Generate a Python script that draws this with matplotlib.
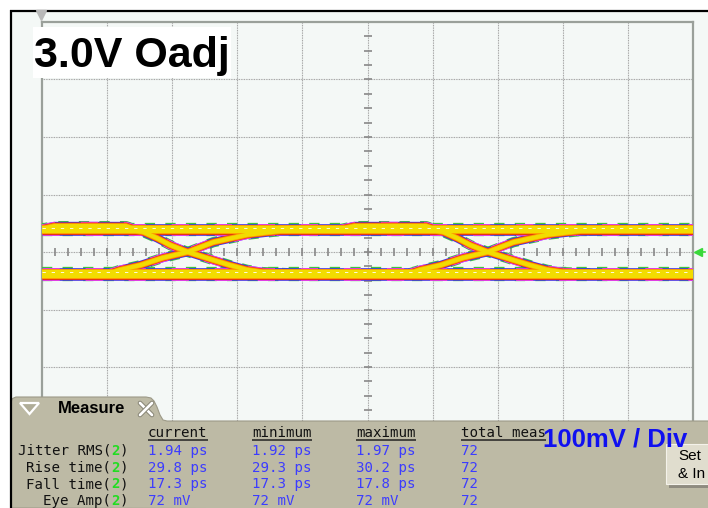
import matplotlib
matplotlib.use("Agg")
import matplotlib.pyplot as plt
from matplotlib.patches import Rectangle, Polygon
from matplotlib.font_manager import FontProperties
import numpy as np

# ---------------- data ----------------
x_range_div = [0, 10]            # horizontal graticule, divisions
y_range_mV = [-400, 400]         # 100 mV / div, 8 divisions
cross_t = [2.24, 6.85]           # eye crossing times (div)
high_levels_mV = [42.0, 37.0]    # sub-traces forming the "1" band
low_levels_mV = [-34.5, -41.0]   # sub-traces forming the "0" band
rise_dt = [-1.20, -1.04, -0.73, -0.38, 0.0, 0.39, 0.91, 1.42, 1.88]
rise_mV = [-37, -31, -23, -10, 0, 17, 30, 36.5, 39]
fall_dt = [-0.97, -0.69, -0.47, -0.27, 0.0, 0.39, 0.65, 0.91, 1.15, 1.57]
fall_mV = [39, 35, 24, 12, 0, -14, -23, -31, -35, -37]
hump_dt = [-2.30, -2.05, -0.95, -0.72]
hump_mV = [39, 45, 45, 36]

title_text = "3.0V Oadj"
scale_text = "100mV / Div"
meas_labels = ["Jitter RMS", "Rise time", "Fall time", "Eye Amp"]
meas_channel = "2"
meas_headers = ["current", "minimum", "maximum", "total meas"]
meas_current = ["1.94 ps", "29.8 ps", "17.3 ps", "72 mV"]
meas_minimum = ["1.92 ps", "29.3 ps", "17.3 ps", "72 mV"]
meas_maximum = ["1.97 ps", "30.2 ps", "17.8 ps", "72 mV"]
meas_total = ["72", "72", "72", "72"]

# ---------------- figure ----------------
W, H = 708, 508
fig = plt.figure(figsize=(W / 100, H / 100), dpi=100)
fig.patch.set_facecolor("white")

SCREEN_BG = "#f4f8f6"
GRID_C = "#999999"
BOLD = FontProperties(family="Liberation Sans", weight="bold")

# background layer (pixel coordinates)
bg = fig.add_axes([0, 0, 1, 1], zorder=0)
bg.set_xlim(0, W); bg.set_ylim(H, 0); bg.axis("off")
bg.add_patch(Rectangle((11, 11), W, H, facecolor=SCREEN_BG, edgecolor="none"))

# scope screen
ax = fig.add_axes([42 / W, (H - 482) / H, 651 / W, 460 / H], zorder=1)
ax.set_facecolor(SCREEN_BG)
ax.set_xlim(*x_range_div)
ax.set_ylim(*y_range_mV)
ax.set_xticks([]); ax.set_yticks([])
for s in ["top", "right", "left"]:
    ax.spines[s].set_color("#9aa09a")
    ax.spines[s].set_linewidth(1.6)
ax.spines["bottom"].set_visible(False)

dot = (0, (0.75, 0.75))
for xv in range(1, 10):
    ax.axvline(xv, color=GRID_C, lw=0.8, ls=dot, zorder=1)
for yv in range(-300, 400, 100):
    ax.axhline(yv, color=GRID_C, lw=0.8, ls=dot, zorder=1)
# centre-axis minor ticks
ax.plot(np.arange(0.2, 10, 0.2), np.zeros(49), ls="none", marker="|",
        ms=5.5, mew=1.2, color="#888888", zorder=1.5)
ax.plot(np.full(31, 5.0), np.arange(-375, 400, 25), ls="none", marker="_",
        ms=5.5, mew=1.2, color="#888888", zorder=1.5)

# eye-diagram traces
traces = []
for lv in high_levels_mV + low_levels_mV:
    traces.append(([x_range_div[0], x_range_div[1]], [lv, lv]))
for c in cross_t:
    traces.append(([c + d for d in hump_dt], hump_mV))
    traces.append(([c + d for d in rise_dt], rise_mV))
    traces.append(([c + d for d in fall_dt], fall_mV))

layers = [
    ("#3ec43e", 7.4, (0, (1.0, 1.0))),
    ("#3535ff", 6.2, "-"),
    ("#ff3cff", 6.2, (0, (2, 3))),
    ("#e23a10", 5.2, "-"),
    ("#ff9a00", 4.3, "-"),
    ("#f2dc00", 3.0, "-"),
]
for i, (col, lw, ls) in enumerate(layers):
    for xs, ys in traces:
        ax.plot(xs, ys, color=col, lw=lw, ls=ls, solid_capstyle="butt",
                dash_capstyle="butt", zorder=3 + i * 0.1)
for lv in high_levels_mV[:1] + low_levels_mV[:1]:
    ax.plot(x_range_div, [lv, lv], color="white", lw=0.6,
            ls=(0, (4, 7)), zorder=4)

# ---------------- overlay (pixel coordinates) ----------------
ov = fig.add_axes([0, 0, 1, 1], zorder=2)
ov.set_xlim(0, W); ov.set_ylim(H, 0); ov.axis("off")
ov.patch.set_visible(False)

# border
ov.plot([10, W], [10.5, 10.5], color="black", lw=1.6, solid_capstyle="butt")
# trigger marker and ground marker
ov.plot(41, 15, marker="v", ms=6.5, color="#b8b8b8", mec="#b8b8b8")
ov.plot(698, 252, marker="<", ms=6, color="#3ad83a", mec="#3ad83a")
ov.plot([698, 705], [252, 252], color="#3ad83a", lw=1.2)

# title box
ov.add_patch(Rectangle((33, 27), 198, 51, facecolor="white", edgecolor="none"))
ov.text(34, 67, title_text, fontproperties=BOLD, fontsize=31,
        color="black", va="baseline", ha="left")

# measure panel
PANEL = "#bdbaa5"
tab = [(11, H), (11, 402), (12.5, 398.5), (16, 397), (146, 397), (151, 398),
       (154, 401), (157, 407), (160, 415), (163, 420), (167, 421), (W + 2, 421),
       (W + 2, H + 2)]
ov.add_patch(Polygon(tab, closed=True, facecolor=PANEL, edgecolor="#9c9987",
                     lw=0.8))
# dropdown triangle
ov.add_patch(Polygon([(20, 403), (39, 403), (29.5, 414)], closed=True,
                     facecolor="#b0ad98", edgecolor="white", lw=1.6))
ov.text(58, 413.3, "Measure", fontproperties=BOLD, fontsize=12,
        color="black", va="baseline", ha="left")
# close cross
for (xa, ya, xb, yb) in [(140, 403, 152, 415), (140, 415, 152, 403)]:
    ov.plot([xa, xb], [ya, yb], color="#8a8878", lw=3.4, solid_capstyle="round")
    ov.plot([xa, xb], [ya, yb], color="white", lw=1.9, solid_capstyle="round")

MONO = "DejaVu Sans Mono"
FS = 10.2
cw = 0.602 * FS * 100 / 72
col_x = [148, 252, 356, 461]
header_base = 437
row_base = [455, 471.7, 488.3, 505]
for cx, hd in zip(col_x, meas_headers):
    ov.text(cx, header_base, hd, family=MONO, fontsize=FS, color="#111111",
            va="baseline", ha="left")
    ov.plot([cx, cx + len(hd) * cw], [439.5, 439.5], color="#222222", lw=1.1,
            solid_capstyle="butt")
label_right = 128.5
for rb, lab in zip(row_base, meas_labels):
    ov.text(label_right - 2 * cw, rb, lab + "(", family=MONO, fontsize=FS,
            color="#111111", va="baseline", ha="right")
    ov.text(label_right - 2 * cw, rb, meas_channel, family=MONO, fontsize=FS,
            color="#22dd22", fontweight="bold", va="baseline", ha="left")
    ov.text(label_right - cw, rb, ")", family=MONO, fontsize=FS,
            color="#111111", va="baseline", ha="left")
for cx, vals in zip(col_x, [meas_current, meas_minimum, meas_maximum, meas_total]):
    for rb, v in zip(row_base, vals):
        ov.text(cx, rb, v, family=MONO, fontsize=FS, color="#3c3cff",
                va="baseline", ha="left")

ov.text(543, 446.7, scale_text, fontproperties=BOLD, fontsize=18.5,
        color="#1010f0", va="baseline", ha="left")

# Setup button (cut off at the right edge)
ov.add_patch(Rectangle((669, 447), 45, 41, facecolor="#8e8b7f", edgecolor="none"))
ov.add_patch(Rectangle((666, 444), 46, 40, facecolor="#e0ddce",
                       edgecolor="#f4f2ea", lw=0.8))
ov.text(678, 460, "Set", fontsize=11, family="Liberation Sans", color="black",
        va="baseline", ha="left")
ov.text(678, 478, "& In", fontsize=11, family="Liberation Sans", color="black",
        va="baseline", ha="left")

# left border (on top of everything)
ov.plot([10.5, 10.5], [10, H], color="black", lw=1.6, solid_capstyle="butt")

fig.savefig("out.png", dpi=100)
